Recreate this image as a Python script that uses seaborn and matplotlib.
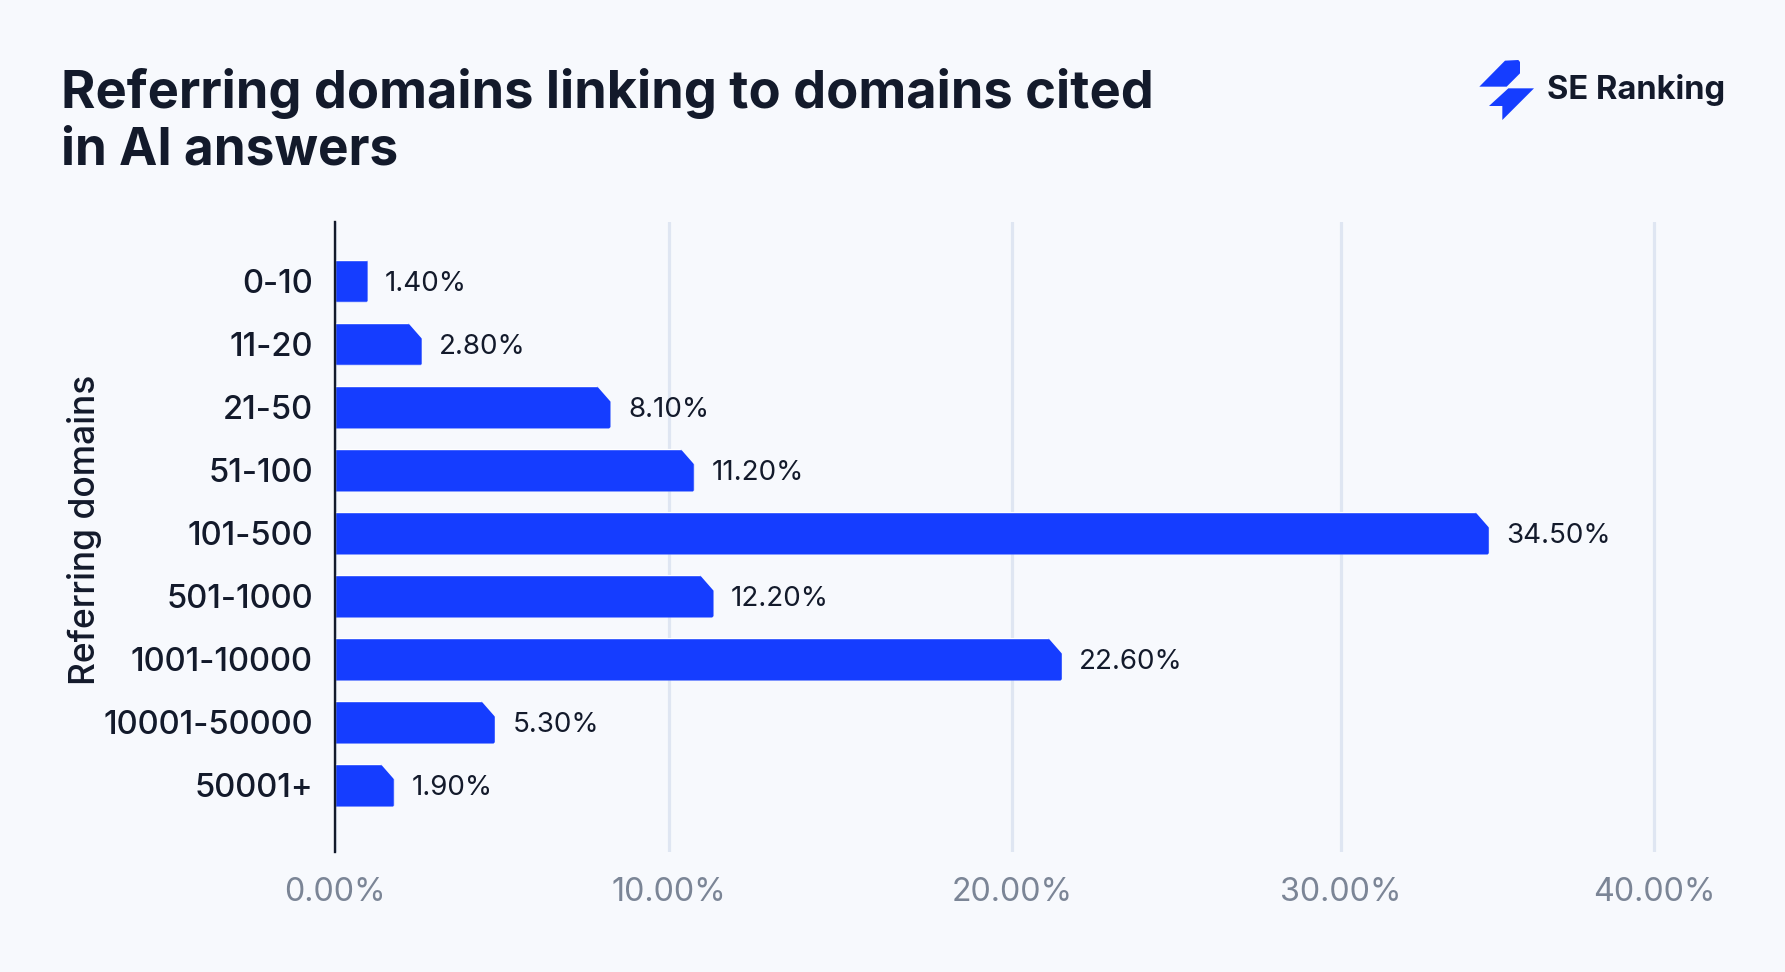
import numpy as np
import pandas as pd
import seaborn as sns
import matplotlib
matplotlib.use("Agg")
import matplotlib.pyplot as plt
from matplotlib.path import Path
from matplotlib.patches import Polygon
from matplotlib.transforms import IdentityTransform

# Data
categories = ["0-10", "11-20", "21-50", "51-100", "101-500", "501-1000",
              "1001-10000", "10001-50000", "50001+"]
labelled_values = [1.4, 2.8, 8.1, 11.2, 34.5, 12.2, 22.6, 5.3, 1.9]
# bar lengths as drawn in the picture, read against its gridlines
drawn_lengths = [0.98, 2.60, 8.25, 10.74, 34.73, 11.30, 21.52, 4.79, 1.78]
x_ticks = [0, 10, 20, 30, 40]
# the reference's gridlines are unevenly spaced: tick value -> relative position
scale_values = [0, 10, 20, 30, 40, 50]
scale_positions = [0, 334, 677, 1006, 1319, 1632]

BG = "#F7F9FD"
BLUE = "#153DFF"
DARK = "#131A2B"
GREY = "#7B8596"
GRID = "#DFE6F2"
FONT = ["Inter", "DejaVu Sans"]

W, H = 1785, 972
sns.set_theme(style="white")
plt.rcParams["font.family"] = FONT
fig = plt.figure(figsize=(W / 100, H / 100), dpi=100, facecolor=BG)

AX_L, AX_R, AX_T, AX_B = 335, 1716.6, 222, 851.7
ax = fig.add_axes([AX_L / W, 1 - AX_B / H, (AX_R - AX_L) / W, (AX_B - AX_T) / H])
ax.set_facecolor(BG)

df = pd.DataFrame({"range": categories, "share": drawn_lengths})
sns.barplot(data=df, y="range", x="share", color=BLUE, saturation=1,
            width=0.68, ax=ax, zorder=3, order=categories)

ax.set_xscale("function", functions=(
    lambda v: np.interp(v, scale_values, scale_positions),
    lambda p: np.interp(p, scale_positions, scale_values)))
ax.set_xlim(0, 42)
ax.set_ylim(9.055, -0.937)
ax.set_xticks(x_ticks, [f"{t:.2f}%" for t in x_ticks])
ax.xaxis.set_minor_locator(matplotlib.ticker.NullLocator())
ax.grid(axis="x", color=GRID, lw=2.3, zorder=0)
ax.grid(axis="y", visible=False)
for s in ["top", "right", "bottom"]:
    ax.spines[s].set_visible(False)
ax.spines["left"].set_color(DARK)
ax.spines["left"].set_linewidth(1.7)
ax.spines["left"].set_zorder(5)
ax.tick_params(axis="x", length=0, pad=18, labelsize=23.2, labelcolor=GREY)
ax.tick_params(axis="y", length=0, pad=16, labelsize=23.6, labelcolor=DARK)
for t in ax.get_yticklabels():
    t.set_fontweight("medium")
ax.set_xlabel("")
ax.set_ylabel("")
fig.text(85 / W, 1 - 530 / H, "Referring domains", rotation=90, ha="center",
         va="center", fontsize=25.5, fontweight="medium", color=DARK)

for i, (length, val) in enumerate(zip(drawn_lengths, labelled_values)):
    ax.annotate(f"{val:.2f}%", xy=(length, i), xytext=(12.5, -2),
                textcoords="offset points", ha="left", va="center",
                fontsize=20.0, color=DARK, zorder=6)

# chamfer the top-right corner of each bar, as in the reference
fig.canvas.draw()
for i, patch in enumerate(ax.patches):
    bb = patch.get_window_extent()
    dx, dy = (14, 16) if i != 0 else (1.5, 1.5)
    verts = [(bb.x0 - 2, bb.y0), (bb.x1 - 1.5, bb.y0), (bb.x1, bb.y0 + 1.5),
             (bb.x1, bb.y1 - dy), (bb.x1 - dx, bb.y1), (bb.x0 - 2, bb.y1),
             (bb.x0 - 2, bb.y0)]
    patch.set_clip_path(Path(verts, closed=True), IdentityTransform())

fig.text(61 / W, 1 - 93.5 / H, "Referring domains linking to domains cited",
         fontsize=37.75, fontweight="bold", color=DARK, ha="left", va="center")
fig.text(61 / W, 1 - 151 / H, "in AI answers",
         fontsize=37.0, fontweight="bold", color=DARK, ha="left", va="center")

# Logo overlay in pixel space
ov = fig.add_axes([0, 0, 1, 1], facecolor="none")
ov.set_xlim(0, W)
ov.set_ylim(H, 0)
ov.axis("off")
def lp(pts):
    return [(1440 + x / 3, 40 + y / 3) for x, y in pts]
ov.add_patch(Polygon(lp([(118, 140), (195, 62), (235, 60), (240, 66), (240, 100), (200, 140)]),
                     closed=True, fc=BLUE, ec="none"))
ov.add_patch(Polygon(lp([(205, 145), (282, 145), (187, 240), (187, 198), (147, 198)]),
                     closed=True, fc=BLUE, ec="none"))
ov.text(1547, 90, "SE Ranking", fontsize=23.6, fontweight="bold", color=DARK,
        ha="left", va="center")

fig.savefig("out.png", dpi=100, facecolor=BG)
